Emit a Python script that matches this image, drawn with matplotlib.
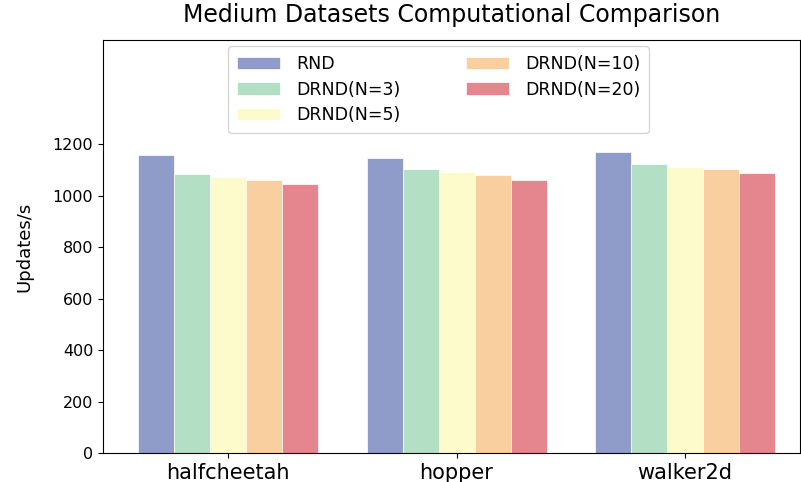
import matplotlib
matplotlib.use("Agg")
import matplotlib.pyplot as plt
import numpy as np

categories = ["halfcheetah", "hopper", "walker2d"]
series_names = ["RND", "DRND(N=3)", "DRND(N=5)", "DRND(N=10)", "DRND(N=20)"]
rnd = [1157, 1144, 1170]
drnd3 = [1083, 1102, 1123]
drnd5 = [1071, 1091, 1111]
drnd10 = [1060, 1080, 1102]
drnd20 = [1043, 1061, 1086]
values = [rnd, drnd3, drnd5, drnd10, drnd20]
colors = ["#8f9cc9", "#b3dfc4", "#fdfacc", "#f9cf9f", "#e5858d"]

fig = plt.figure(figsize=(8.01, 4.82), dpi=100)
ax = fig.add_axes([103/801, 29/482, 697/801, 413/482])
x = np.arange(len(categories))
w = 0.1575
for i, (name, vals) in enumerate(zip(series_names, values)):
    ax.bar(x + (i - 2) * w, vals, w, color=colors[i], label=name,
           edgecolor="white", linewidth=0.5)

ax.set_xticks(x)
ax.set_xticklabels(categories, fontsize=15)
ax.set_yticks(range(0, 1201, 200))
ax.tick_params(axis="y", labelsize=11.5)
ax.set_ylim(0, 1604)
ax.set_xlim(-0.547, 2.503)
ax.set_ylabel("Updates/s", fontsize=13, labelpad=14)
ax.set_title("Medium Datasets Computational Comparison", fontsize=17, pad=13)
ax.legend(loc="upper left", ncol=2, fontsize=12.5,
          bbox_to_anchor=((222 - 103) / 697, 1.0), borderaxespad=0.35,
          handlelength=2.5, handletextpad=0.9, columnspacing=3.8,
          labelspacing=0.45, borderpad=0.5)
fig.savefig("out.png", dpi=100)
